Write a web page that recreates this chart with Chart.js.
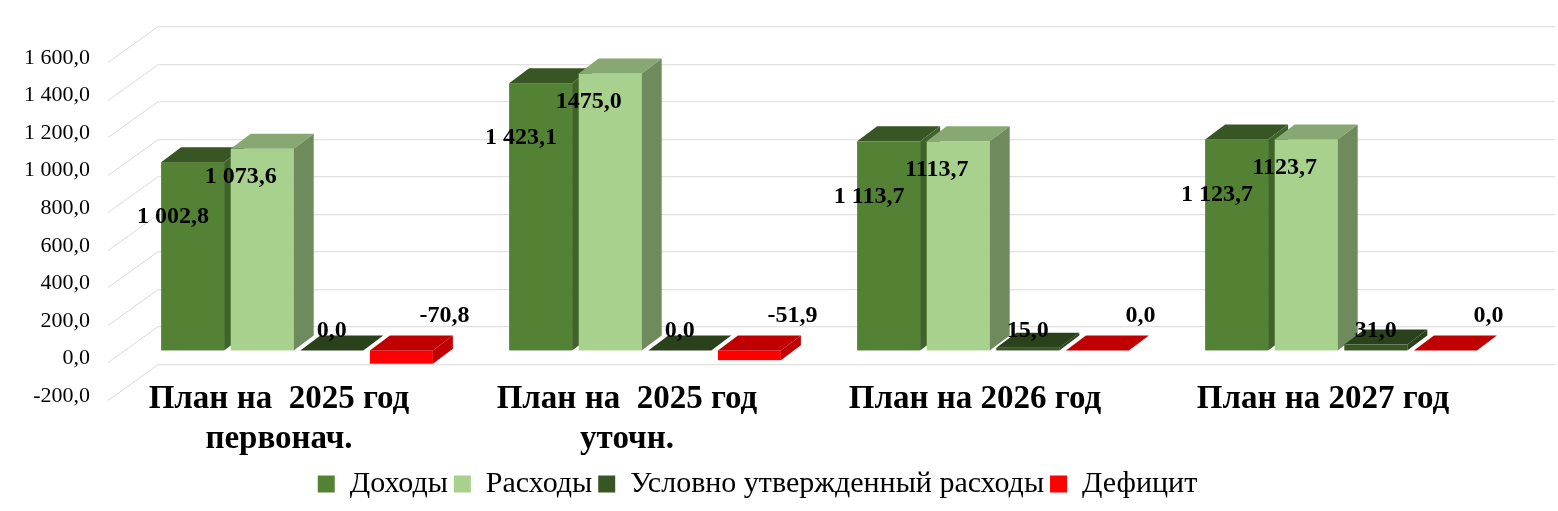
<!DOCTYPE html>
<html><head><meta charset="utf-8">
<script src="https://cdn.jsdelivr.net/npm/chart.js@4.4.1/dist/chart.umd.min.js"></script>
<style>html,body{margin:0;padding:0;background:#fff}#w{width:1558px;height:511px}</style>
</head><body><div id="w"><canvas id="c"></canvas></div>
<script>
const categories = [["План на  2025 год","первонач."],["План на  2025 год","уточн."],["План на 2026 год"],["План на 2027 год"]];
const seriesNames = ["Доходы","Расходы","Условно утвержденный расходы","Дефицит"];
const dohody = [1002.8, 1423.1, 1113.7, 1123.7];
const rashody = [1073.6, 1475.0, 1113.7, 1123.7];
const uslovno = [0, 0, 15.0, 31.0];
const deficit = [-70.8, -51.9, 0, 0];
const dohodyLabels = ["1 002,8","1 423,1","1 113,7","1 123,7"];
const rashodyLabels = ["1 073,6","1475,0","1113,7","1123,7"];
const uslovnoLabels = ["0,0","0,0","15,0","31,0"];
const deficitLabels = ["-70,8","-51,9","0,0","0,0"];
const yTicks = [-200,0,200,400,600,800,1000,1200,1400,1600];

const colors = [
  {front:'#548235', top:'#375623', side:'#3f6428'},
  {front:'#a9d18e', top:'#87a872', side:'#6f8a5d'},
  {front:'#375623', top:'#2a421b', side:'#2a421b'},
  {front:'#ff0000', top:'#c00000', side:'#c00000'}
];
const allLabels=[dohodyLabels,rashodyLabels,uslovnoLabels,deficitLabels];
const DX=20, DY=15, GX=50, GY=36;
function fmt(v){const s=Math.abs(v).toFixed(1).replace('.',',');let [i,d]=s.split(',');i=i.replace(/\B(?=(\d{3})+(?!\d))/g,' ');return (v<0?'-':'')+i+','+d;}

const plug={id:'p3d',
 beforeDatasetsDraw(ch){
  const c=ch.ctx,a=ch.chartArea,y=ch.scales.y;
  c.save();c.strokeStyle='#d9d9d9';c.lineWidth=1;
  yTicks.forEach(t=>{const py=Math.round(y.getPixelForValue(t))+0.5;
   c.beginPath();c.moveTo(a.left-15,py+GY/3);c.lineTo(a.left-15+GX,py-GY*0.66);c.lineTo(a.right+40,py-GY*0.66);c.stroke();});
  c.fillStyle='#000';c.font='22px "Liberation Serif"';c.textAlign='right';c.textBaseline='middle';
  yTicks.forEach(t=>c.fillText(fmt(t),90,y.getPixelForValue(t)+8));
  c.restore();
 },
 afterDatasetsDraw(ch){
  const c=ch.ctx,y=ch.scales.y,x=ch.scales.x;
  c.save();
  for(let d=0;d<4;d++){
   const meta=ch.getDatasetMeta(d),col=colors[d];
   meta.data.forEach((b,i)=>{
    const p=b.getProps(['x','y','base','width'],true);
    const l=p.x-p.width/2,r=p.x+p.width/2,t=Math.min(p.y,p.base),bt=Math.max(p.y,p.base);
    c.fillStyle=col.front;c.fillRect(l,t,r-l,bt-t);
    c.fillStyle=col.top;c.beginPath();c.moveTo(l,t);c.lineTo(l+DX,t-DY);c.lineTo(r+DX,t-DY);c.lineTo(r,t);c.closePath();c.fill();
    c.fillStyle=col.side;c.beginPath();c.moveTo(r,t);c.lineTo(r+DX,t-DY);c.lineTo(r+DX,bt-DY);c.lineTo(r,bt);c.closePath();c.fill();
   });
  }
  c.fillStyle='#000';c.font='bold 24px "Liberation Serif"';c.textAlign='center';c.textBaseline='middle';
  for(let d=0;d<4;d++){
   const meta=ch.getDatasetMeta(d);
   meta.data.forEach((b,i)=>{
    const p=b.getProps(['x','y','base','width'],true);const l=p.x-p.width/2;
    const z=y.getPixelForValue(0);
    let tx,ty;
    if(d===0){tx=l+12;ty=p.y+55;}
    else if(d===1){tx=l+10;ty=p.y+28;}
    else if(d===2){tx=p.x;ty=z-20;}
    else {tx=p.x+43;ty=z-35;}
    c.fillText(allLabels[d][i],tx,ty);
   });
  }
  c.font='bold 33px "Liberation Serif"';
  categories.forEach((lines,i)=>{const cx=x.getPixelForValue(i)-18;
   lines.forEach((s,k)=>c.fillText(s,cx,399+k*40));});
  c.restore();
 }};

new Chart(document.getElementById('c'),{
 type:'bar',
 data:{labels:categories,datasets:[
  {label:seriesNames[0],data:dohody},
  {label:seriesNames[1],data:rashody},
  {label:seriesNames[2],data:uslovno},
  {label:seriesNames[3],data:deficit}
 ].map(ds=>Object.assign(ds,{categoryPercentage:0.8,barPercentage:0.905,borderWidth:0,backgroundColor:'rgba(0,0,0,0)'}))},
 options:{responsive:true,maintainAspectRatio:false,animation:false,
  layout:{padding:{top:50,right:43,left:0,bottom:2}},
  plugins:{tooltip:{enabled:false},
   legend:{position:'bottom',labels:{color:'#000',font:{family:'"Liberation Serif"',size:30},boxWidth:17,boxHeight:17,padding:6,
    generateLabels(ch){return seriesNames.map((n,i)=>({text:n,fillStyle:colors[i].front,strokeStyle:colors[i].front,lineWidth:0,datasetIndex:i}));}}}},
  scales:{
   x:{grid:{display:false},border:{display:false},ticks:{display:false},afterFit(s){s.height=75;}},
   y:{min:-200,max:1600,grid:{display:false},border:{display:false},ticks:{display:false},
    afterBuildTicks(s){s.ticks=yTicks.map(v=>({value:v}));},
    afterFit(s){s.width=123;}}
  }}
 ,plugins:[plug]});
</script></body></html>
